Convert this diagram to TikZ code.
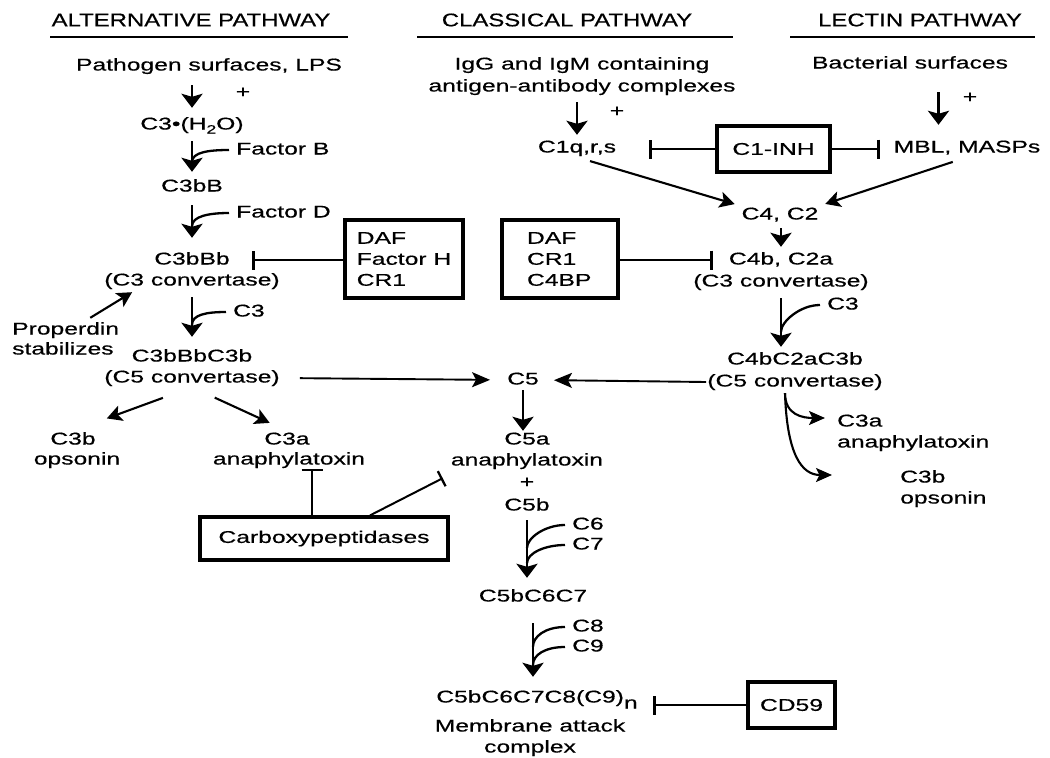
\documentclass[tikz,border=0pt]{standalone}
\usepackage{fontspec}
\setmainfont{Liberation Sans}[FakeStretch=1.45,FakeBold=0.5]
\newfontfamily\hdfont{Liberation Sans}[FakeStretch=1.3,FakeBold=0.5]
\usetikzlibrary{arrows.meta,calc}
\newcommand\fs{\fontsize{17}{21}\selectfont}
\tikzset{
  tx/.style={inner sep=1pt, text height=12.5pt, text depth=3.5pt, font=\fs},
  lbl/.style={tx, inner xsep=7pt, anchor=west},
  hd/.style={inner sep=1pt, font=\hdfont\fontsize{18.4}{20}\selectfont},
  bx/.style={draw, line width=3.2pt, font=\fs, inner sep=4pt},
  va/.style={line width=2.8pt, -{Stealth[length=14pt,width=21pt,inset=3pt]}},
  ha/.style={line width=1.9pt, -{Stealth[length=18pt,width=15pt,inset=4pt]}},
  da/.style={line width=2.1pt, -{Stealth[length=15pt,width=16pt,inset=3.5pt]}},
  ca/.style={line width=2.1pt, -{Stealth[length=16pt,width=14pt,inset=3.5pt]}},
  br/.style={line width=2.3pt},
  teeh/.style={line width=1.9pt, -{Bar[width=19pt,line width=2.8pt]}},
  teev/.style={line width=2.7pt, -{Bar[width=21pt,line width=2pt]}},
  teed/.style={line width=2pt, -{Bar[width=17pt,line width=2.3pt]}},
  uline/.style={line width=2.8pt}
}
\begin{document}
\begin{tikzpicture}[x=1pt,y=-1pt]
\useasboundingbox[fill=white] (0,0) rectangle (1050,758);

% headers
\node[hd] (hA) at (191,20) {ALTERNATIVE PATHWAY};
\node[hd] (hC) at (567,20) {CLASSICAL PATHWAY};
\node[hd] (hL) at (920,20) {LECTIN PATHWAY};
\draw[uline] (50,37) -- (348,37);
\draw[uline] (417,37) -- (733,37);
\draw[uline] (790,37) -- (1035,37);

% alternative pathway
\node[tx] (pls) at (209,66) {Pathogen surfaces, LPS};
\node[tx] (p1) at (243,93) {+};
\node[tx] (c3h) at (192,125) {C3•(H\raisebox{-4pt}{\fontsize{12}{12}\selectfont 2}O)};
\node[lbl] (fB) at (229,150) {Factor B};
\node[tx] (c3bB) at (192,187) {C3bB};
\node[lbl] (fD) at (229,213) {Factor D};
\node[tx] (c3bBb) at (192,260) {C3bBb};
\node[tx] (c3conv) at (192,281) {(C3 convertase)};
\node[lbl] (c3l) at (226,312) {C3};
\node[lbl] (prop1) at (5,330) {Properdin};
\node[lbl] (prop2) at (5,350) {stabilizes};
\node[tx] (c5cA) at (192,357) {C3bBbC3b};
\node[tx] (c5cB) at (192,378) {(C5 convertase)};
\node[tx] (c3bA) at (73,440) {C3b};
\node[tx] (c3bO) at (77,460) {opsonin};
\node[tx] (c3aA) at (287,440) {C3a};
\node[tx] (c3aB) at (289,460) {anaphylatoxin};
\node[bx, minimum width=118pt, minimum height=78pt, align=left] (bx1) at (404,259) {DAF\\Factor H\\CR1};
\node[bx, minimum width=116pt, minimum height=78pt, text width=66pt, align=left] (bx2) at (560,259) {DAF\\CR1\\C4BP};
\node[bx, minimum width=248pt, minimum height=43pt] (carb) at (324,538.5) {Carboxypeptidases};

% terminal pathway
\node[tx] (c5) at (523,380) {C5};
\node[tx] (c5aA) at (527,440) {C5a};
\node[tx] (c5aB) at (527,461) {anaphylatoxin};
\node[tx] (p4) at (527,483) {+};
\node[tx] (c5b) at (527,506) {C5b};
\node[lbl] (c6) at (565,525) {C6};
\node[lbl] (c7) at (565,545) {C7};
\node[tx] (c567) at (533,597) {C5bC6C7};
\node[lbl] (c8) at (565,627) {C8};
\node[lbl] (c9) at (565,647) {C9};
\node[tx] (mac1) at (537,698) {C5bC6C7C8(C9)\raisebox{-6pt}{n}};
\node[tx] (mac2) at (530,727) {Membrane attack};
\node[tx] (mac3) at (530,748) {complex};
\node[bx, minimum width=87pt, minimum height=46pt] (cd59) at (791.5,705) {CD59};

% classical / lectin
\node[tx] (igg1) at (582,65) {IgG and IgM containing};
\node[tx] (igg2) at (582,87) {antigen-antibody complexes};
\node[tx] (p2) at (617,112) {+};
\node[tx] (c1q) at (577,148) {C1q,r,s};
\node[bx, minimum width=113pt, minimum height=46pt] (c1inh) at (773.5,149) {C1-INH};
\node[tx] (mbl) at (967,148) {MBL, MASPs};
\node[tx] (bact) at (910,64) {Bacterial surfaces};
\node[tx] (p3) at (970,98) {+};
\node[tx] (c4c2) at (780,215) {C4, C2};
\node[tx] (c4b) at (781,260) {C4b, C2a};
\node[tx] (c4bconv) at (781,282) {(C3 convertase)};
\node[lbl] (c3r) at (820,305) {C3};
\node[tx] (c4bA) at (795,360) {C4bC2aC3b};
\node[tx] (c4bB) at (795,382) {(C5 convertase)};
\node[lbl] (c3a2A) at (830,422) {C3a};
\node[lbl] (c3a2B) at (830,443) {anaphylatoxin};
\node[lbl] (c3b2A) at (893,478) {C3b};
\node[lbl] (c3b2B) at (893,499) {opsonin};

% vertical arrows
\draw[va, shorten <=10pt, shorten >=8pt] (c3h |- pls.south) -- (c3h.north);
\draw[va, shorten <=7pt, shorten >=6pt] (c3h.south) -- (c3bB.north);
\draw[va, shorten <=9pt, shorten >=13pt] (c3bB.south) -- (c3bBb.north);
\draw[va, shorten <=7pt, shorten >=11pt] (c3conv.south) -- (c5cA.north);
\draw[va, shorten <=6pt, shorten >=4pt] (c1q |- igg2.south) -- (c1q.north);
\coordinate (bm) at ($(bact.south)!0.5!(mbl.north)$);
\draw[va, shorten <=19pt, shorten >=14pt] (bm |- bact.south) -- (bm |- mbl.north);
\draw[va, shorten <=4pt, shorten >=4pt] (c4b |- c4c2.south) -- (c4b.north);
\draw[va, shorten <=7pt, shorten >=4pt] (c4bconv.south) -- (c4bconv.south |- c4bA.north);
\draw[va, shorten <=1pt] (c5.south) -- (c5.south |- c5aA.north);
\draw[va, shorten <=5pt, shorten >=10pt] (c5b.south) -- (c5b.south |- c567.north);
\draw[va, shorten <=17pt, shorten >=12pt] (c567.south) -- (c567.south |- mac1.north);

% joining branches
\coordinate (mB) at ($(c3h.south)!0.64!(c3bB.north)$);
\draw[br] (fB.west) .. controls +(-20,0) and +(0,-10) .. (mB);
\coordinate (mD) at ($(c3bB.south)!0.55!(c3bBb.north)$);
\draw[br] (fD.west) .. controls +(-20,0) and +(0,-10) .. (mD);
\coordinate (mC) at ($(c3conv.south)!0.6!(c5cA.north)$);
\draw[br] (c3l.west) .. controls +(-20,0) and +(0,-10) .. (mC);
\coordinate (mR) at ($(c4bconv.south)!0.68!(c4bconv.south |- c4bA.north)$);
\draw[br] (c3r.west) .. controls +(-20,0) and +(0,-10) .. (mR);
\coordinate (m6) at ($(c5b.south)!0.45!(c5b.south |- c567.north)$);
\draw[br] (c6.west) .. controls +(-20,0) and +(0,-10) .. (m6);
\coordinate (m7) at ($(c5b.south)!0.66!(c5b.south |- c567.north)$);
\draw[br] (c7.west) .. controls +(-20,0) and +(0,-10) .. (m7);
\coordinate (m8) at ($(c567.south)!0.49!(c567.south |- mac1.north)$);
\draw[br] (c8.west) .. controls +(-20,0) and +(0,-10) .. (m8);
\coordinate (m9) at ($(c567.south)!0.71!(c567.south |- mac1.north)$);
\draw[br] (c9.west) .. controls +(-20,0) and +(0,-10) .. (m9);

% diagonal arrows
\draw[da, shorten <=31pt, shorten >=36pt] (c5cB.south) -- (c3bA.north);
\draw[da, shorten <=25pt, shorten >=19pt] (c5cB.south) -- (c3aA.north);
\draw[da, shorten <=13.6pt, shorten >=6pt] (c1q.south) -- (c4c2.north west);
\draw[da, shorten <=15pt, shorten >=6pt] (mbl.south) -- (c4c2.north east);
\draw[da] ($(prop1.north east)+(-36,-3)$) -- ($(c3conv.south west)+(29,2)$);

% curved products (right)
\coordinate (cs) at ($(c4bB.south)+(-10,2)$);
\draw[ca] (cs) .. controls +(0,22) and +(-22,0) .. ($(c3a2A.west)+(-5,-4)$);
\draw[ca] (cs) .. controls +(2,62) and +(-30,0) .. ($(c3b2A.west)+(-61,-3)$);

% horizontal arrows to C5
\draw[ha, shorten <=19pt, shorten >=16pt] (c5cB.east) -- (c5.west);
\draw[ha, shorten >=14pt] (c4bB.west) -- (c5.east);

% inhibitions
\draw[teeh, shorten >=21pt] (bx1.west |- c3bBb) -- (c3bBb.east);
\draw[teeh, shorten >=15pt] (bx2.east |- c4b) -- (c4b.west);
\draw[teeh, shorten >=32pt] (c1inh.west) -- (c1inh.west -| c1q.east);
\draw[teeh, shorten >=13pt] (c1inh.east) -- (c1inh.east -| mbl.west);
\draw[teeh, shorten >=14pt] (cd59.west) -- (cd59.west -| mac1.east);
\coordinate (cT) at ($(carb.north)+(-12,0)$);
\draw[teev] (cT) -- (cT |- c3aB.south);
\draw[teed] ($(carb.north)+(46,0)$) -- ($(c5aB.south west)+(-7,8)$);
\end{tikzpicture}
\end{document}
